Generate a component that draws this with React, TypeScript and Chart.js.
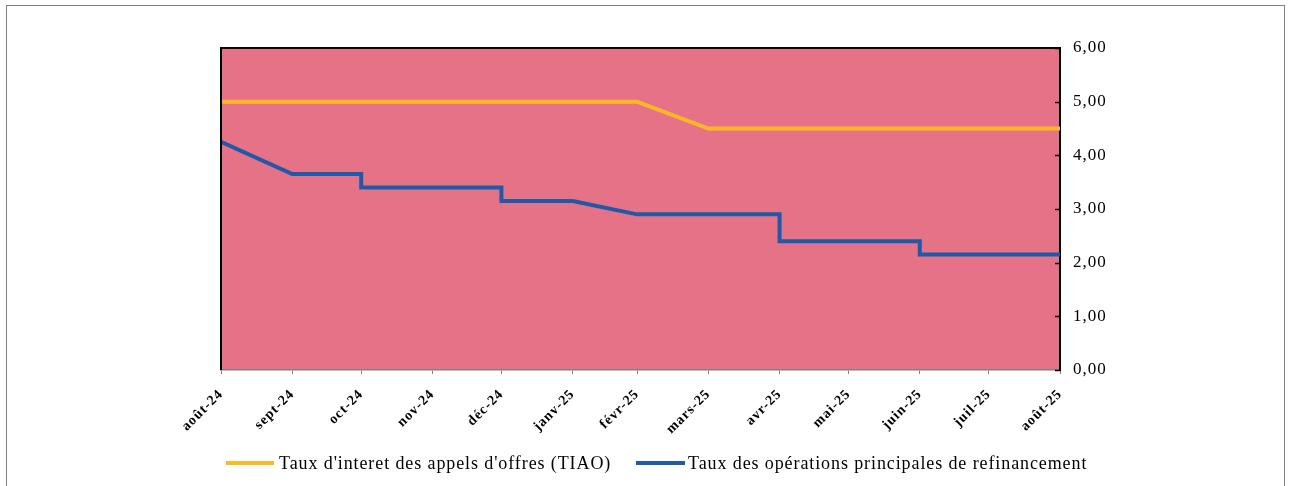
import React, { useEffect, useRef } from "react";
import { Chart, registerables } from "chart.js";

Chart.register(...registerables);

// x values: days since 1 Aug 2024
const monthTicks = [0, 31, 61, 92, 122, 153, 181, 212, 243, 273, 304, 334, 365];
const monthLabels = [
  "août-24", "sept-24", "oct-24", "nov-24", "déc-24", "janv-25", "févr-25",
  "mars-25", "avr-25", "mai-25", "juin-25", "juil-25", "août-25",
];

const tiaoDays = [0, 181, 212, 365];
const tiaoValues = [5.0, 5.0, 4.5, 4.5];

const refiDays = [0, 31, 61, 61, 122, 122, 153, 181, 243, 243, 304, 304, 365];
const refiValues = [4.25, 3.65, 3.65, 3.4, 3.4, 3.15, 3.15, 2.9, 2.9, 2.4, 2.4, 2.15, 2.15];

const seriesNames = [
  "Taux d'interet des appels d'offres (TIAO)",
  "Taux des opérations principales de refinancement",
];
const seriesColors = ["#FDB924", "#1F5AA8"];

const yTicks = [0, 1, 2, 3, 4, 5, 6];

const decorPlugin = {
  id: "decor",
  beforeDraw(chart: any) {
    const { ctx, chartArea } = chart;
    ctx.save();
    ctx.fillStyle = "#ffffff";
    ctx.fillRect(0, 0, chart.width, chart.height);
    ctx.strokeStyle = "#808080";
    ctx.lineWidth = 1;
    ctx.strokeRect(6.5, 5.5, 1278, 500);
    ctx.fillStyle = "#E57287";
    ctx.fillRect(chartArea.left, chartArea.top, chartArea.right - chartArea.left, chartArea.bottom - chartArea.top);
    ctx.restore();
    (ctx as any).letterSpacing = "1px";
  },
  afterDraw(chart: any) {
    const { ctx, chartArea } = chart;
    const y = chart.scales.y;
    ctx.save();
    // left + top black border
    ctx.strokeStyle = "#000000";
    ctx.lineWidth = 2;
    ctx.beginPath();
    ctx.moveTo(chartArea.left, chartArea.bottom);
    ctx.lineTo(chartArea.left, chartArea.top);
    ctx.lineTo(chartArea.right, chartArea.top);
    ctx.stroke();
    // inward y ticks
    ctx.lineWidth = 1.5;
    for (const v of yTicks) {
      const py = Math.round(y.getPixelForValue(v)) + 0.5;
      ctx.beginPath();
      ctx.moveTo(chartArea.right - 5, py);
      ctx.lineTo(chartArea.right, py);
      ctx.stroke();
    }
    // legend
    const ly = 463;
    const items = [
      { x0: 226, x1: 274, tx: 279 },
      { x0: 636, x1: 685, tx: 688 },
    ];
    (ctx as any).letterSpacing = "0.9px";
    ctx.font = "18px 'Liberation Serif'";
    ctx.textBaseline = "middle";
    ctx.textAlign = "left";
    items.forEach((it, i) => {
      ctx.strokeStyle = seriesColors[i];
      ctx.lineWidth = 4;
      ctx.beginPath();
      ctx.moveTo(it.x0, ly);
      ctx.lineTo(it.x1, ly);
      ctx.stroke();
      ctx.fillStyle = "#000000";
      ctx.fillText(seriesNames[i], it.tx, ly + 1);
    });
    ctx.restore();
    (ctx as any).letterSpacing = "0px";
  },
};

export default function App() {
  const ref = useRef<HTMLCanvasElement | null>(null);
  useEffect(() => {
    document.body.style.margin = "0";
    const canvas = ref.current!;
    const chart = new Chart(canvas, {
      type: "line",
      data: {
        datasets: [
          {
            label: seriesNames[0],
            data: tiaoDays.map((d, i) => ({ x: d, y: tiaoValues[i] })),
            borderColor: seriesColors[0],
            borderWidth: 4,
            pointRadius: 0,
            tension: 0,
            fill: false,
          },
          {
            label: seriesNames[1],
            data: refiDays.map((d, i) => ({ x: d, y: refiValues[i] })),
            borderColor: seriesColors[1],
            borderWidth: 4,
            pointRadius: 0,
            tension: 0,
            fill: false,
          },
        ],
      },
      options: {
        responsive: false,
        animation: false,
        devicePixelRatio: 1,
        layout: { padding: { left: 221, top: 48, right: 0, bottom: 0 } },
        plugins: { legend: { display: false }, tooltip: { enabled: false } },
        scales: {
          x: {
            type: "linear",
            min: 0,
            max: 365,
            afterBuildTicks: (scale: any) => {
              scale.ticks = monthTicks.map((v) => ({ value: v }));
            },
            afterFit: (scale: any) => {
              scale.height = 116;
            },
            grid: {
              drawOnChartArea: false,
              drawTicks: true,
              tickLength: 4,
              color: "#808080",
            },
            border: { display: true, color: "#808080", width: 1.5 },
            ticks: {
              autoSkip: false,
              minRotation: 45,
              maxRotation: 45,
              padding: 12,
              color: "#000000",
              font: { family: "'Liberation Serif'", size: 14, weight: "bold" },
              callback: (value: any) => {
                const i = monthTicks.indexOf(value);
                return i >= 0 ? monthLabels[i] : "";
              },
            },
          },
          y: {
            position: "right",
            min: 0,
            max: 6,
            afterBuildTicks: (scale: any) => {
              scale.ticks = yTicks.map((v) => ({ value: v }));
            },
            afterFit: (scale: any) => {
              scale.width = 230;
            },
            grid: { display: false, drawTicks: false },
            border: { display: true, color: "#000000", width: 2 },
            ticks: {
              padding: 13,
              color: "#000000",
              font: { family: "'Liberation Serif'", size: 17 },
              callback: (value: any) => Number(value).toFixed(2).replace(".", ","),
            },
          },
        },
      },
      plugins: [decorPlugin],
    } as any);
    return () => chart.destroy();
  }, []);
  return <canvas ref={ref} width={1290} height={486} style={{ display: "block" }} />;
}
